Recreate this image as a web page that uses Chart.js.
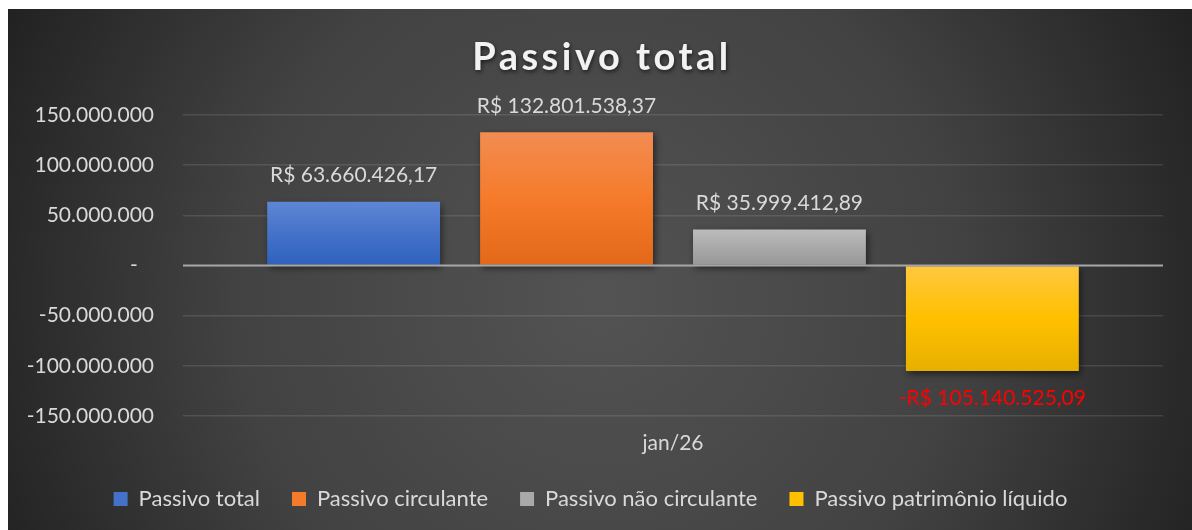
<!DOCTYPE html>
<html lang="pt-BR">
  <head>
    <meta charset="UTF-8" />
    <title>Passivo total</title>
    <script src="https://cdn.jsdelivr.net/npm/chart.js"></script>
    <style>
      body { margin: 0; background: #fff; }
      .wrap { position: absolute; left: 8px; top: 9px; width: 1184px; height: 521px; }
    </style>
  </head>
  <body>
    <div class="wrap"><canvas id="chart"></canvas></div>
    <script>
      const title = "Passivo total";
      const categories = ["jan/26"];
      const seriesNames = ["Passivo total", "Passivo circulante", "Passivo não circulante", "Passivo patrimônio líquido"];
      const seriesValues = [63660426.17, 132801538.37, 35999412.89, -105140525.09];
      const yTicks = [-150000000, -100000000, -50000000, 0, 50000000, 100000000, 150000000];

      // top / middle / bottom of each bar gradient
      const palette = [
        ["#5f86d4", "#4572c9", "#2e61bd"],
        ["#f28c52", "#f57b2a", "#e3691a"],
        ["#bcbcbc", "#a9a9a9", "#989898"],
        ["#ffc840", "#ffc000", "#e6b000"],
      ];

      const FONT = "Lato";
      Chart.defaults.font.family = FONT;
      Chart.defaults.color = "#d9d9d9";

      function brl(v) {
        const parts = Math.abs(v).toFixed(2).split(".");
        const int = parts[0].replace(/\B(?=(\d{3})+(?!\d))/g, ".");
        return (v < 0 ? "-" : "") + "R$ " + int + "," + parts[1];
      }
      function thousands(v) {
        if (v === 0) return "-   ";
        const s = Math.abs(v).toString().replace(/\B(?=(\d{3})+(?!\d))/g, ".");
        return (v < 0 ? "-" : "") + s;
      }

      const background = {
        id: "background",
        beforeDraw(chart) {
          const { ctx, width, height } = chart;
          const g = ctx.createRadialGradient(width / 2, height * 0.55, 0, width / 2, height * 0.55, width * 0.56);
          g.addColorStop(0, "#535353");
          g.addColorStop(0.55, "#424242");
          g.addColorStop(1, "#212121");
          ctx.save();
          ctx.fillStyle = g;
          ctx.fillRect(0, 0, width, height);
          ctx.restore();
        },
      };

      const barShadow = {
        id: "barShadow",
        beforeDatasetDraw(chart) {
          const ctx = chart.ctx;
          ctx.save();
          ctx.shadowColor = "rgba(0,0,0,0.55)";
          ctx.shadowBlur = 7;
          ctx.shadowOffsetX = 2;
          ctx.shadowOffsetY = 3;
        },
        afterDatasetDraw(chart) {
          chart.ctx.restore();
        },
      };

      const overlay = {
        id: "overlay",
        afterDatasetsDraw(chart) {
          const { ctx, chartArea } = chart;
          const y0 = chart.scales.y.getPixelForValue(0);
          ctx.save();
          ctx.strokeStyle = "#a6a6a6";
          ctx.lineWidth = 2;
          ctx.beginPath();
          ctx.moveTo(chartArea.left, y0);
          ctx.lineTo(chartArea.right, y0);
          ctx.stroke();

          ctx.font = "21px " + FONT;
          ctx.textAlign = "center";
          ctx.textBaseline = "middle";
          chart.data.datasets.forEach((ds, i) => {
            const el = chart.getDatasetMeta(i).data[0];
            const v = ds.data[0];
            ctx.fillStyle = v < 0 ? "#ff0000" : "#d9d9d9";
            ctx.fillText(brl(v), el.x, v < 0 ? el.y + 27 : el.y - 26);
          });
          ctx.restore();
        },
        afterDraw(chart) {
          const ctx = chart.ctx;
          ctx.save();
          ctx.font = "bold 38px " + FONT;
          ctx.letterSpacing = "3.5px";
          ctx.textAlign = "center";
          ctx.textBaseline = "alphabetic";
          ctx.shadowColor = "rgba(0,0,0,0.6)";
          ctx.shadowBlur = 4;
          ctx.shadowOffsetX = 1;
          ctx.shadowOffsetY = 2;
          ctx.fillStyle = "#f2f2f2";
          ctx.fillText(title, chart.width / 2 + 2, 61);
          ctx.restore();
        },
      };

      function barFill(i) {
        return (c) => {
          const chart = c.chart;
          if (!chart.chartArea || c.type !== "data") return palette[i][1];
          const ys = chart.scales.y;
          const a = ys.getPixelForValue(c.raw);
          const b = ys.getPixelForValue(0);
          const top = Math.min(a, b), bot = Math.max(a, b);
          if (bot - top < 1) return palette[i][1];
          const g = chart.ctx.createLinearGradient(0, top, 0, bot);
          g.addColorStop(0, palette[i][0]);
          g.addColorStop(0.5, palette[i][1]);
          g.addColorStop(1, palette[i][2]);
          return g;
        };
      }

      const datasets = seriesNames.map((name, i) => ({
        label: name,
        data: [seriesValues[i]],
        backgroundColor: barFill(i),
        borderWidth: 0,
        categoryPercentage: 0.869,
        barPercentage: 0.812,
      }));

      new Chart(document.getElementById("chart"), {
        type: "bar",
        data: { labels: categories, datasets },
        plugins: [background, barShadow, overlay],
        options: {
          responsive: true,
          maintainAspectRatio: false,
          animation: false,
          layout: { padding: { top: 106, left: 10, right: 29, bottom: 10 } },
          plugins: {
            title: { display: false },
            tooltip: { enabled: false },
            legend: {
              position: "bottom",
              onClick: null,
              labels: {
                color: "#d9d9d9",
                font: { size: 22 },
                boxWidth: 14,
                boxHeight: 14,
                padding: 32,
                generateLabels(chart) {
                  return chart.data.datasets.map((ds, i) => ({
                    text: ds.label,
                    fillStyle: palette[i][1],
                    strokeStyle: palette[i][1],
                    lineWidth: 0,
                    datasetIndex: i,
                    fontColor: "#d9d9d9",
                  }));
                },
              },
            },
          },
          scales: {
            x: {
              grid: { display: false, drawTicks: false },
              border: { display: false },
              ticks: { color: "#d9d9d9", font: { size: 21 }, padding: 15 },
              afterFit(s) { s.height = 40; },
            },
            y: {
              min: -150000000,
              max: 150000000,
              afterBuildTicks(s) { s.ticks = yTicks.map((v) => ({ value: v })); },
              afterFit(s) { s.width = 165; },
              grid: { color: "rgba(255,255,255,0.11)", lineWidth: 1.5, drawTicks: false },
              border: { display: false },
              ticks: { color: "#d9d9d9", font: { size: 21 }, padding: 29, callback: (v) => thousands(v) },
            },
          },
        },
      });
    </script>
  </body>
</html>
